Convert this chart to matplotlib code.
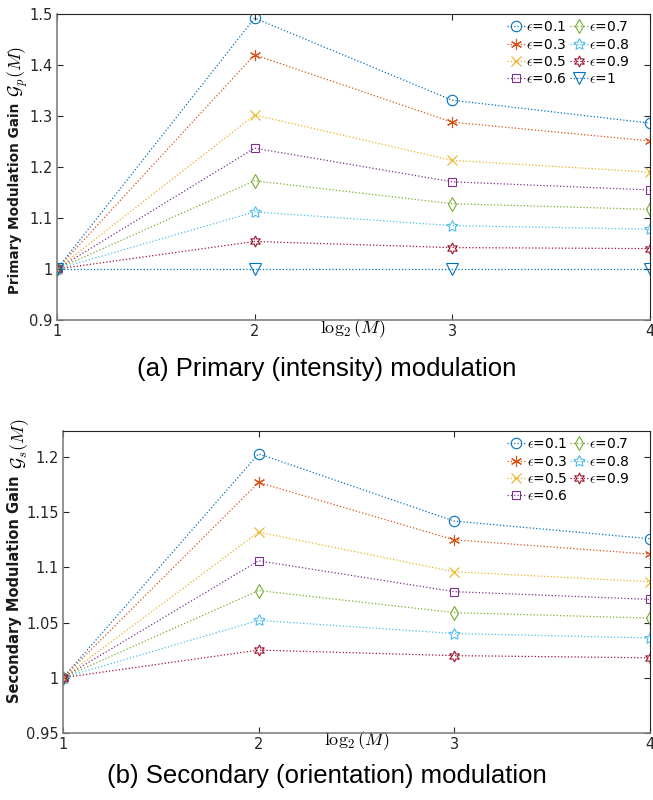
import numpy as np
import matplotlib
matplotlib.use("Agg")
import matplotlib.pyplot as plt

plt.rcParams["mathtext.fontset"] = "cm"

x = [1, 2, 3, 4]

# primary modulation gain, one list per epsilon
eps_p = ["0.1", "0.3", "0.5", "0.6", "0.7", "0.8", "0.9", "1"]
gp = [
    [1, 1.492, 1.331, 1.286],
    [1, 1.420, 1.288, 1.251],
    [1, 1.302, 1.213, 1.190],
    [1, 1.237, 1.171, 1.155],
    [1, 1.173, 1.128, 1.117],
    [1, 1.112, 1.085, 1.078],
    [1, 1.054, 1.042, 1.040],
    [1, 1.000, 1.000, 1.000],
]

# secondary modulation gain
eps_s = ["0.1", "0.3", "0.5", "0.6", "0.7", "0.8", "0.9"]
gs = [
    [1, 1.203, 1.142, 1.126],
    [1, 1.177, 1.125, 1.112],
    [1, 1.132, 1.096, 1.087],
    [1, 1.106, 1.078, 1.071],
    [1, 1.079, 1.059, 1.054],
    [1, 1.052, 1.040, 1.036],
    [1, 1.025, 1.020, 1.018],
]

colors = [(0, 0.447, 0.741), (0.85, 0.325, 0.098), (0.929, 0.694, 0.125),
          (0.494, 0.184, 0.556), (0.466, 0.674, 0.188), (0.301, 0.745, 0.933),
          (0.635, 0.078, 0.184), (0, 0.447, 0.741)]
markers = ["o", (6, 2, 0), "x", "s", "d", (5, 1, 0), (6, 1, 0), "v"]
sizes = [7.5, 8, 6.5, 6, 7.5, 8.5, 8, 8]

fig = plt.figure(figsize=(6.53, 8), dpi=100)


def panel(ax, data, labels, yticks, ylim, words, sym, caption, cap_y,
          words_x, words_top, sym_x, sym_bottom, words_size):
    for i, ys in enumerate(data):
        ax.plot(x, ys, linestyle=":", linewidth=0.9, color=colors[i],
                marker=markers[i], markersize=sizes[i], markerfacecolor="none",
                markeredgecolor=colors[i], markeredgewidth=0.8,
                label=r"$\epsilon$=" + labels[i])
    ax.set_xlim(1, 4)
    ax.set_ylim(*ylim)
    ax.set_xticks(x)
    ax.set_xticklabels([str(v) for v in x])
    ax.set_yticks(yticks)
    ax.set_yticklabels([("%g" % v) for v in yticks])
    ax.tick_params(direction="in", top=True, right=True, labelsize=10.5,
                   colors=(0.15, 0.15, 0.15), length=4, pad=3)
    for s in ["left", "bottom"]:
        ax.spines[s].set_color((0.5, 0.5, 0.5))
        ax.spines[s].set_linewidth(1.2)
    for s in ["top", "right"]:
        ax.spines[s].set_color((0.15, 0.15, 0.15))
        ax.spines[s].set_linewidth(0.8)
    ax.set_xlabel(r"$\log_2(M)$", fontsize=13, labelpad=-16)
    # y label: bold words plus a larger math symbol above them
    ax.text(words_x, words_top, words, transform=ax.transAxes, rotation=90,
            ha="center", va="top", fontsize=words_size, fontweight="bold",
            color=(0.1, 0.1, 0.1))
    ax.text(sym_x, sym_bottom, sym, transform=ax.transAxes, rotation=90,
            ha="center", va="bottom", fontsize=13)
    ax.legend(loc="upper right", bbox_to_anchor=(0.975, 0.998), ncol=2,
              frameon=False, fontsize=10, handlelength=1.3,
              handletextpad=0.1, columnspacing=0.2, labelspacing=0.24,
              borderaxespad=0.0)
    fig.text(0.5, cap_y, caption, ha="center", va="center", fontsize=18.5,
             family="Liberation Sans")


ax1 = fig.add_axes([0.0873, 0.6, 0.9077, 0.3825])
panel(ax1, gp, eps_p, [0.9, 1, 1.1, 1.2, 1.3, 1.4, 1.5], (0.9, 1.5),
      "Primary Modulation Gain", r"$\mathcal{G}_p(M)$",
      "(a) Primary (intensity) modulation", 1 - 369 / 800,
      -0.071, 0.709, -0.066, 0.73, 9.8)

ax2 = fig.add_axes([0.0965, 0.084, 0.8985, 0.377])
panel(ax2, gs, eps_s, [0.95, 1, 1.05, 1.1, 1.15, 1.2], (0.95, 1.2235),
      "Secondary Modulation Gain", r"$\mathcal{G}_s(M)$",
      "(b) Secondary (orientation) modulation", 1 - 776 / 800,
      -0.082, 0.854, -0.074, 0.874, 10.5)

fig.savefig("out.png", dpi=100)
